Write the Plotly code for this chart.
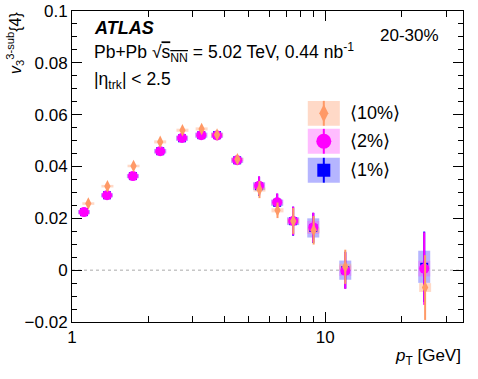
import plotly.graph_objects as go

# pT bin centres [GeV]
pt = [1.115, 1.375, 1.74, 2.23, 2.72, 3.24, 3.74, 4.49, 5.48, 6.46, 7.47, 8.97, 12.0, 24.6]
pt_10 = [1.16, 1.38, 1.75, 2.23, 2.73, 3.25, 3.74, 4.5, 5.5, 6.48, 7.48, 9.0, 12.0, 24.8]

# v3^{3-sub}{4} for the three reference-multiplicity selections
v3_1 = [0.0224, 0.0289, 0.0363, 0.0459, 0.0509, 0.0521, 0.0521, 0.0424, 0.0324, 0.0260, 0.0189, 0.0163, 0.0000, 0.0013]
v3_2 = [0.0224, 0.0289, 0.0363, 0.0459, 0.0510, 0.0521, 0.0520, 0.0424, 0.0326, 0.0262, 0.0190, 0.0165, -0.0002, 0.0006]
v3_10 = [0.0257, 0.0324, 0.0402, 0.0495, 0.0540, 0.0545, 0.0523, 0.0428, 0.0311, 0.0231, 0.0190, 0.0154, 0.0013, -0.0067]

# statistical uncertainties
stat_1 = [0.0004, 0.0005, 0.0006, 0.0007, 0.0008, 0.0009, 0.0010, 0.0012, 0.0037, 0.0035, 0.0056, 0.0058, 0.0071, 0.0136]
stat_2 = [0.0004, 0.0005, 0.0006, 0.0007, 0.0008, 0.0009, 0.0010, 0.0012, 0.0036, 0.0034, 0.0055, 0.0057, 0.0070, 0.0140]
stat_10 = [0.0004, 0.0005, 0.0006, 0.0007, 0.0008, 0.0009, 0.0010, 0.0012, 0.0033, 0.0030, 0.0050, 0.0055, 0.0066, 0.0125]

# systematic uncertainties (boxes)
sys_1 = [0.0008, 0.0008, 0.0008, 0.0009, 0.0010, 0.0010, 0.0010, 0.0010, 0.0015, 0.0012, 0.0015, 0.0037, 0.0037, 0.0062]
sys_2 = [0.0006, 0.0006, 0.0006, 0.0007, 0.0008, 0.0008, 0.0008, 0.0008, 0.0012, 0.0010, 0.0012, 0.0025, 0.0020, 0.0030]
sys_10 = [0.0005, 0.0005, 0.0005, 0.0006, 0.0006, 0.0006, 0.0006, 0.0006, 0.0008, 0.0008, 0.0008, 0.0010, 0.0012, 0.0017]

labels = ['⟨10%⟩', '⟨2%⟩', '⟨1%⟩']

series = [
    # x, y, stat, sys, line colour, box colour, symbol, size
    (pt, v3_1, stat_1, sys_1, '#0000ff', 'rgba(60,60,255,0.38)', 'square', 8),
    (pt, v3_2, stat_2, sys_2, '#ff00ff', 'rgba(255,80,255,0.38)', 'circle', 10),
    (pt_10, v3_10, stat_10, sys_10, '#ff9966', 'rgba(255,170,130,0.45)', 'diamond-tall', 9),
]

FONT = 'Liberation Sans, Arial, sans-serif'

fig = go.Figure()

# systematic boxes drawn as thick error bars
for x, y, st, sy, col, boxcol, sym, sz in series:
    fig.add_trace(go.Scatter(
        x=x, y=y, mode='markers', marker=dict(size=1, opacity=0),
        error_y=dict(type='data', array=sy, visible=True, color=boxcol,
                     thickness=12, width=0),
        showlegend=False, hoverinfo='skip'))

# points with statistical error bars
for x, y, st, sy, col, boxcol, sym, sz in series:
    fig.add_trace(go.Scatter(
        x=x, y=y, mode='markers',
        marker=dict(symbol=sym, size=sz, color=col, line=dict(width=0)),
        error_y=dict(type='data', array=st, visible=True, color=col,
                     thickness=2, width=0),
        showlegend=False))

# hand-made legend (big ROOT-style entries)
leg_x = 0.644
leg_y = [0.671, 0.581, 0.488]
leg_h = 0.080
leg_style = [
    ('rgba(255,170,130,0.45)', '#ff9966', 'diamond-tall', 13),
    ('rgba(255,80,255,0.38)', '#ff00ff', 'circle', 15),
    ('rgba(60,60,255,0.38)', '#0000ff', 'square', 13),
]
for lab, yc, (boxcol, col, sym, sz) in zip(labels, leg_y, leg_style):
    fig.add_shape(type='rect', xref='paper', yref='paper',
                  x0=leg_x - 0.041, x1=leg_x + 0.041, y0=yc - leg_h / 2, y1=yc + leg_h / 2,
                  fillcolor=boxcol, line=dict(width=0), layer='below')
    fig.add_shape(type='line', xref='paper', yref='paper',
                  x0=leg_x, x1=leg_x, y0=yc - leg_h / 2, y1=yc + leg_h / 2,
                  line=dict(color=col, width=2))
    fig.add_annotation(x=0.706, y=yc, xref='paper', yref='paper', text=lab,
                       showarrow=False, xanchor='left', yanchor='middle',
                       font=dict(size=18, color='black', family=FONT))
    fig.add_trace(go.Scatter(x=[leg_x], y=[yc], xaxis='x2', yaxis='y2', mode='markers',
                             marker=dict(symbol=sym, size=sz, color=col),
                             showlegend=False, hoverinfo='skip'))

# dashed zero line
fig.add_shape(type='line', xref='x domain', yref='y', x0=0, x1=1, y0=0, y1=0,
              line=dict(color='#aaaaaa', width=1, dash='3px,3px'), layer='below')

# texts
txt = [
    ('<b><i>ATLAS</i></b>', 0.05, 0.945, 'left', 18),
    ('Pb+Pb √<span style="text-decoration:overline">s<sub>NN</sub></span> = 5.02 TeV, 0.44 nb<sup>-1</sup>',
     0.05, 0.865, 'left', 17.5),
    ('|η<sub>trk</sub>| &lt; 2.5', 0.05, 0.778, 'left', 17.5),
    ('20-30%', 0.943, 0.920, 'right', 17),
    ('<i>p</i><sub>T</sub> [GeV]', 1.0, -0.113, 'right', 17),
]
for t, x, y, anc, s in txt:
    fig.add_annotation(x=x, y=y, xref='paper', yref='paper', text=t, showarrow=False,
                       xanchor=anc, yanchor='middle', font=dict(size=s, color='black', family=FONT))

fig.add_annotation(x=-0.146, y=1.003, xref='paper', yref='paper',
                   text='<i>v</i><sub>3</sub><sup>3-sub</sup>{4}', textangle=-90,
                   showarrow=False, xanchor='center', yanchor='top',
                   font=dict(size=16, color='black', family=FONT))

axis_common = dict(showline=True, linecolor='black', linewidth=1, mirror='allticks',
                   ticks='inside', tickcolor='black', showgrid=False, zeroline=False,
                   automargin=False, ticklabeloverflow='allow',
                   tickfont=dict(size=17, color='black', family=FONT))

fig.update_layout(
    width=478, height=379,
    margin=dict(l=72, r=15, t=11, b=57),
    paper_bgcolor='white', plot_bgcolor='white',
    font=dict(family=FONT, color='black'),
    xaxis=dict(type='log', range=[0, 1.5441], tickvals=[1, 10], ticktext=['1', '10'],
               ticklen=10,
               minor=dict(ticks='inside', ticklen=6, tickcolor='black',
                          tickvals=[2, 3, 4, 5, 6, 7, 8, 9, 20, 30], showgrid=False),
               **axis_common),
    yaxis=dict(range=[-0.02, 0.10001], dtick=0.02, tick0=0, ticklen=10,
               minor=dict(ticks='inside', ticklen=5, tickcolor='black', dtick=0.005,
                          showgrid=False),
               **axis_common),
    xaxis2=dict(overlaying='x', range=[0, 1], visible=False),
    yaxis2=dict(overlaying='y', range=[0, 1], visible=False),
    showlegend=False,
)

# drop the default 8 px page margin so the figure sits at the window corner
fig.write_html('out.html', config={'displayModeBar': False},
               post_script="document.body.style.margin='0';")
